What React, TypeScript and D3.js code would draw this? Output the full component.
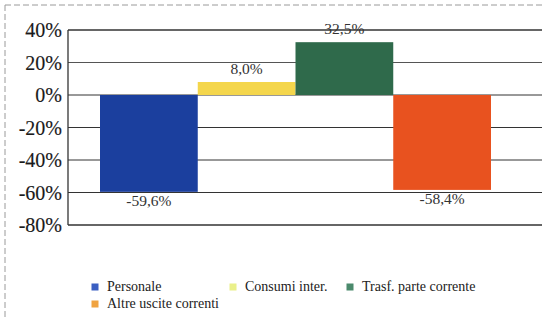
import * as d3 from "d3";
import React from "react";

const series = ["Personale", "Consumi inter.", "Trasf. parte corrente", "Altre uscite correnti"];
const values = [-59.6, 8.0, 32.5, -58.4];
const labels = ["-59,6%", "8,0%", "32,5%", "-58,4%"];
const barColors = ["#1b3f9e", "#f4d64c", "#2f6a4b", "#e8521f"];
const legendColors = ["#3b5fc2", "#eaf08a", "#4b8a6c", "#f0a340"];
const yTicks = [40, 20, 0, -20, -40, -60, -80];

const W = 542;
const H = 329;
const font = '"Liberation Serif", "Times New Roman", "DejaVu Serif", serif';

export default function App() {
  const y = d3.scaleLinear([-80, 40], [225, 30]);
  const x = d3.scaleBand(series, [100, 491]).padding(0);
  const plotLeft = 68;
  const plotRight = W;

  // legend layout: three on the first row, one below
  const legendPos = [
    [95, 286],
    [233, 286],
    [350, 286],
    [95, 303],
  ];

  return (
    <svg
      width={W}
      height={H}
      style={{ position: "fixed", left: 0, top: 0, background: "#fff", fontFamily: font }}
    >
      <rect x={0} y={0} width={W} height={H} fill="#fff" />
      {/* dashed frame of the scan */}
      <line x1={5} y1={5} x2={W} y2={5} stroke="#9a9a9a" strokeDasharray="6 3" />
      <line x1={5} y1={5} x2={5} y2={320} stroke="#9a9a9a" strokeDasharray="6 3" />

      {yTicks.map((t) => (
        <g key={t}>
          <line
            x1={plotLeft}
            x2={plotRight}
            y1={y(t)}
            y2={y(t)}
            stroke={t === 20 ? "#555" : "#333"}
            strokeWidth={t === 40 || t === -80 ? 1.3 : 1}
          />
          <text
            x={62}
            y={y(t)}
            dy="0.35em"
            textAnchor="end"
            style={{ fontFamily: font }}
            fontSize={20}
            fill="#1a1a1a"
            stroke="#1a1a1a"
            strokeWidth={0.15}
          >
            {t}%
          </text>
        </g>
      ))}
      <line x1={plotLeft} x2={plotLeft} y1={y(40)} y2={y(-80)} stroke="#333" strokeWidth={1.3} />

      {series.map((s, i) => {
        const v = values[i];
        const y0 = y(Math.max(0, v));
        const y1 = y(Math.min(0, v));
        const cx = x(s)! + x.bandwidth() / 2;
        return (
          <g key={s}>
            <rect x={x(s)} y={y0} width={x.bandwidth()} height={y1 - y0} fill={barColors[i]} />
            <text
              x={cx}
              y={v >= 0 ? y(v) - 8 : y(v) + 14}
              textAnchor="middle"
              style={{ fontFamily: font }}
              fontSize={15.5}
              fill="#333"
            >
              {labels[i]}
            </text>
          </g>
        );
      })}

      {series.map((s, i) => (
        <g key={s} transform={`translate(${legendPos[i][0]},${legendPos[i][1]})`}>
          <rect x={-3.5} y={-2.5} width={7} height={7} fill={legendColors[i]} />
          <text x={12} y={0} dy="0.35em" style={{ fontFamily: font }} fontSize={14} fill="#222">
            {s}
          </text>
        </g>
      ))}
    </svg>
  );
}
